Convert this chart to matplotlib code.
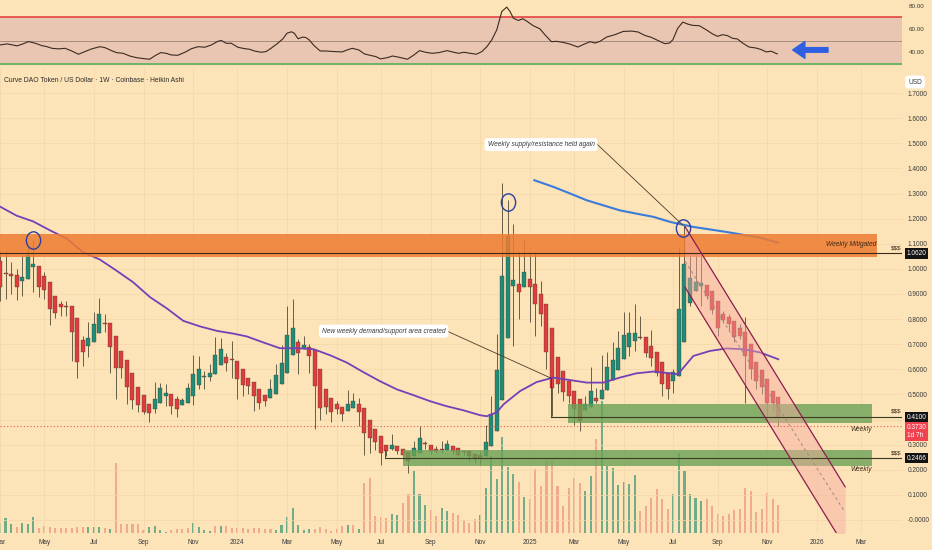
import pandas as pd
import matplotlib
matplotlib.use("Agg")
import matplotlib.pyplot as plt
from matplotlib.path import Path
from matplotlib.transforms import Affine2D

plt.rcParams['font.family'] = ['Liberation Sans Narrow', 'Liberation Sans', 'DejaVu Sans']

START = pd.Timestamp("2023-03-06")  # first weekly Heikin Ashi bar

# Heikin Ashi weekly bars, CRV/USD
ha_open = [1.033, 0.982, 0.98, 0.976, 0.951, 0.96, 1.007, 1.013, 0.973, 0.947,
           0.893, 0.86, 0.853, 0.851, 0.803, 0.717, 0.693, 0.709, 0.743, 0.785,
           0.784, 0.733, 0.671, 0.636, 0.584, 0.531, 0.496, 0.46, 0.44, 0.464,
           0.493, 0.5, 0.48, 0.456, 0.467, 0.493, 0.537, 0.571, 0.571, 0.58,
           0.617, 0.649, 0.639, 0.633, 0.6, 0.567, 0.551, 0.523, 0.496, 0.484,
           0.503, 0.54, 0.587, 0.657, 0.709, 0.685, 0.689, 0.677, 0.603, 0.523,
           0.487, 0.463, 0.451, 0.433, 0.447, 0.46, 0.444, 0.397, 0.363, 0.333,
           0.30, 0.284, 0.293, 0.284, 0.271, 0.253, 0.267, 0.305, 0.297, 0.283,
           0.281, 0.28, 0.293, 0.287, 0.275, 0.273, 0.264, 0.26, 0.253, 0.293,
           0.353, 0.476, 0.724, 0.931, 0.94, 0.927, 0.96, 0.94, 0.90, 0.86,
           0.763, 0.647, 0.593, 0.553, 0.513, 0.48, 0.437, 0.451, 0.484, 0.48,
           0.516, 0.557, 0.597, 0.64, 0.687, 0.713, 0.729, 0.727, 0.693, 0.667,
           0.629, 0.584, 0.553, 0.573, 0.707, 0.863, 0.913, 0.93, 0.936, 0.913,
           0.873, 0.82, 0.81, 0.793, 0.763, 0.749, 0.70, 0.631, 0.596, 0.563,
           0.513, 0.489]
ha_close = [0.927, 0.978, 0.971, 0.927, 0.967, 1.056, 1.02, 0.929, 0.917, 0.84,
            0.823, 0.849, 0.847, 0.749, 0.631, 0.669, 0.723, 0.78, 0.82, 0.781,
            0.687, 0.607, 0.604, 0.531, 0.477, 0.456, 0.431, 0.424, 0.483, 0.527,
            0.504, 0.453, 0.443, 0.476, 0.527, 0.58, 0.6, 0.575, 0.587, 0.657,
            0.68, 0.627, 0.636, 0.563, 0.537, 0.533, 0.493, 0.467, 0.473, 0.52,
            0.576, 0.627, 0.736, 0.764, 0.664, 0.696, 0.653, 0.533, 0.444, 0.451,
            0.431, 0.44, 0.42, 0.46, 0.473, 0.429, 0.347, 0.327, 0.309, 0.267,
            0.273, 0.297, 0.273, 0.26, 0.233, 0.287, 0.327, 0.301, 0.273, 0.273,
            0.279, 0.303, 0.273, 0.26, 0.271, 0.253, 0.243, 0.247, 0.311, 0.423,
            0.597, 0.973, 1.129, 0.956, 0.909, 0.989, 0.927, 0.86, 0.82, 0.669,
            0.527, 0.54, 0.509, 0.493, 0.44, 0.393, 0.46, 0.513, 0.473, 0.517,
            0.61, 0.637, 0.683, 0.737, 0.743, 0.743, 0.725, 0.663, 0.643, 0.587,
            0.54, 0.52, 0.589, 0.84, 1.02, 0.963, 0.947, 0.943, 0.891, 0.837,
            0.763, 0.797, 0.78, 0.727, 0.733, 0.653, 0.60, 0.553, 0.531, 0.464,
            0.464, 0.407]
ha_high = [1.073, 1.073, 1.029, 1.0, 1.051, 1.093, 1.116, 1.013, 0.987, 0.947,
           0.893, 0.873, 0.873, 0.851, 0.803, 0.733, 0.787, 0.829, 0.883, 0.82,
           0.784, 0.733, 0.671, 0.636, 0.584, 0.531, 0.496, 0.46, 0.551, 0.547,
           0.54, 0.5, 0.493, 0.487, 0.547, 0.657, 0.653, 0.593, 0.62, 0.727,
           0.723, 0.663, 0.713, 0.633, 0.6, 0.567, 0.551, 0.523, 0.496, 0.56,
           0.62, 0.696, 0.853, 0.88, 0.72, 0.731, 0.70, 0.677, 0.603, 0.523,
           0.487, 0.473, 0.451, 0.516, 0.507, 0.487, 0.444, 0.397, 0.363, 0.333,
           0.30, 0.344, 0.293, 0.284, 0.271, 0.313, 0.376, 0.313, 0.297, 0.293,
           0.313, 0.317, 0.293, 0.287, 0.28, 0.273, 0.264, 0.273, 0.38, 0.493,
           0.74, 1.343, 1.273, 1.18, 1.073, 1.113, 1.067, 1.067, 0.953, 0.86,
           0.763, 0.647, 0.593, 0.553, 0.513, 0.48, 0.493, 0.61, 0.527, 0.656,
           0.669, 0.709, 0.753, 0.829, 0.829, 0.86, 0.813, 0.727, 0.756, 0.667,
           0.629, 0.584, 0.60, 1.087, 1.173, 1.067, 1.06, 1.067, 0.936, 0.913,
           0.873, 0.833, 0.82, 0.793, 0.78, 0.807, 0.70, 0.631, 0.596, 0.563,
           0.513, 0.489]
ha_low = [0.873, 0.88, 0.90, 0.877, 0.891, 0.96, 0.909, 0.887, 0.88, 0.777,
          0.803, 0.813, 0.811, 0.633, 0.564, 0.613, 0.647, 0.709, 0.743, 0.747,
          0.587, 0.483, 0.564, 0.46, 0.44, 0.431, 0.42, 0.389, 0.427, 0.464,
          0.453, 0.42, 0.411, 0.456, 0.467, 0.456, 0.52, 0.52, 0.553, 0.58,
          0.617, 0.593, 0.567, 0.48, 0.493, 0.50, 0.433, 0.44, 0.453, 0.484,
          0.503, 0.54, 0.585, 0.657, 0.58, 0.68, 0.587, 0.363, 0.40, 0.42,
          0.389, 0.42, 0.393, 0.433, 0.447, 0.373, 0.26, 0.267, 0.28, 0.22,
          0.253, 0.28, 0.264, 0.24, 0.187, 0.253, 0.267, 0.283, 0.264, 0.267,
          0.267, 0.28, 0.264, 0.253, 0.26, 0.233, 0.227, 0.22, 0.253, 0.293,
          0.353, 0.476, 0.724, 0.693, 0.80, 0.927, 0.787, 0.733, 0.773, 0.60,
          0.413, 0.504, 0.473, 0.467, 0.38, 0.353, 0.437, 0.451, 0.467, 0.48,
          0.516, 0.557, 0.597, 0.64, 0.653, 0.673, 0.72, 0.647, 0.613, 0.573,
          0.493, 0.48, 0.507, 0.573, 0.707, 0.853, 0.913, 0.853, 0.88, 0.82,
          0.733, 0.784, 0.753, 0.707, 0.72, 0.464, 0.56, 0.52, 0.50, 0.393,
          0.433, 0.373]

volume = [10, 15, 9, 6, 10, 9, 16, 5, 7, 6,
          5, 5, 5, 5, 6, 6, 6, 6, 6, 5,
          4, 70, 9, 9, 9, 9, 3, 6, 7, 3,
          1.5, 3, 4, 4, 5, 10, 6, 3, 2, 7,
          7, 7, 5, 5, 5, 4, 5, 5, 4, 4,
          3, 8, 16, 25, 8, 3, 4, 4, 6, 4,
          2, 4, 7, 8, 8, 4, 50, 55, 17, 16,
          15, 19, 18, 30, 39, 62, 39, 28, 23, 17,
          25, 22, 20, 18, 13, 10, 14, 18, 45, 77,
          54, 96, 66, 59, 51, 36, 34, 64, 47, 72,
          72, 47, 27, 45, 55, 50, 42, 57, 94, 132,
          67, 65, 48, 51, 49, 58, 22, 27, 35, 44,
          34, 24, 39, 80, 62, 39, 35, 32, 34, 27,
          19, 17, 19, 23, 24, 45, 42, 21, 24, 40,
          34, 28]
volume_dir = ("gggsgggsss" "ssssssgggs" "gssssssggg" "gssssggggs" "gsssssssss"
              "gggggggsss" "sssgsgssss" "sggssgggss" "ggsssssggg" "ggggsgssss"
              "ssssssggsg" "ggggggssss" "ssggggggss" "ssssssssss" "ss")

# moving averages (bar position, value)
ma_purple_pos = [0, 3.0, 6.0, 9.1, 12.1, 15.0, 18.1, 21.1, 24.1, 27.2,
                 30.2, 33.2, 36.2, 39.3, 42.3, 44.7, 47.7, 50.7, 53.8, 56.8,
                 59.8, 62.8, 65.8, 68.8, 71.9, 74.9, 77.9, 80.9, 83.9, 87.0,
                 88.2, 90.0, 91.2, 94.2, 97.2, 100.2, 103.3, 106.3, 109.3, 112.3,
                 115.3, 118.4, 121.4, 122.8, 125.6, 128.6, 131.6, 134.7, 137.7, 141]
ma_purple_val = [1.248, 1.212, 1.189, 1.153, 1.12, 1.067, 1.037, 0.993, 0.947, 0.887,
                 0.843, 0.793, 0.771, 0.753, 0.742, 0.731, 0.707, 0.684, 0.684, 0.68,
                 0.656, 0.627, 0.589, 0.553, 0.52, 0.497, 0.473, 0.453, 0.437, 0.417,
                 0.413, 0.429, 0.46, 0.513, 0.549, 0.567, 0.557, 0.547, 0.547, 0.567,
                 0.584, 0.591, 0.584, 0.58, 0.653, 0.673, 0.683, 0.68, 0.667, 0.64]
ma_blue_pos = [96.8, 100.2, 103.3, 106.3, 109.3, 112.3, 115.3, 118.4, 121.4, 125.6,
               131.6, 137.7, 141]
ma_blue_val = [1.353, 1.327, 1.30, 1.273, 1.253, 1.233, 1.22, 1.207, 1.187, 1.167,
               1.147, 1.124, 1.104]

# RSI (bar position, value)
rsi_pos = [0, 1.3, 3.1, 4, 5.2, 6.4, 7.6, 8.5, 9.4, 10.6,
           11.8, 13, 14.2, 15.4, 16.6, 18.1, 19, 20.2, 21.1, 22.3,
           23.5, 24.7, 25.9, 27.1, 28, 29.1, 30.1, 31, 32.2, 33.5,
           34.7, 35.9, 37.1, 38.3, 39.5, 40.1, 41, 41.9, 43.1, 44.3,
           45.2, 46.1, 47.3, 48.2, 49.1, 50.3, 51.2, 52, 52.8, 53.3,
           54, 54.8, 55.4, 56, 56.9, 58, 59, 60.5, 62, 62.9,
           63.8, 65, 66, 67.2, 68.1, 68.9, 70.2, 71.1, 72.3, 73.8,
           75, 76, 77.1, 78.3, 79.5, 81, 82.2, 83.1, 84, 85.2,
           86.3, 87.3, 88.2, 89.1, 90, 90.9, 91.8, 92.4, 93, 93.9,
           94.7, 95.5, 96.6, 97.8, 98.7, 99.9, 100.8, 102, 103.2, 104.7,
           105.6, 106.9, 107.8, 108.7, 109.9, 111.4, 112.9, 114.4, 115.6, 116.8,
           118, 119.5, 120.4, 121.3, 121.9, 122.8, 123.7, 124.6, 125.5, 126.7,
           127.9, 129.1, 130, 130.9, 131.8, 132.7, 133.6, 134.5, 135.7, 136.9,
           137.9, 138.8, 139.7, 140.8]
rsi_val = [46.3, 47.2, 45.5, 46.9, 49.2, 47.7, 45.7, 44.8, 43.4, 42.9,
           43.4, 41.1, 38.3, 40.6, 42.9, 44.8, 44.0, 41.4, 39.7, 39.1,
           36.8, 35.4, 34.6, 34.0, 36.8, 39.7, 39.1, 37.7, 37.4, 40.0,
           43.1, 44.8, 44.3, 46.3, 49.5, 50.1, 47.7, 47.7, 44.3, 43.1,
           42.6, 41.1, 40.0, 40.6, 43.4, 47.7, 51.3, 56.4, 57.6, 56.4,
           51.6, 53.0, 52.7, 50.7, 45.7, 41.1, 41.1, 40.6, 40.3, 42.0,
           43.4, 42.0, 38.6, 37.2, 36.3, 34.3, 35.4, 36.8, 35.7, 34.0,
           37.7, 41.4, 40.0, 39.1, 39.7, 41.4, 40.0, 39.1, 40.0, 39.1,
           38.3, 40.6, 44.8, 50.7, 59.3, 75.0, 78.8, 75.0, 69.3, 67.3,
           68.8, 66.5, 62.8, 60.2, 55.1, 49.1, 49.4, 48.5, 47.1, 44.5,
           46.5, 49.1, 47.9, 49.4, 53.1, 55.1, 57.9, 58.2, 57.4, 54.5,
           52.8, 49.4, 47.4, 47.9, 50.8, 60.8, 65.9, 64.2, 63.1, 62.8,
           59.4, 55.7, 53.7, 55.1, 54.3, 52.0, 51.4, 48.0, 44.5, 43.7,
           42.3, 40.3, 40.9, 38.6]

# drawings
supply_zone = (0, 158.9, 1.047, 1.139)      # x0, x1, low, high
demand_zone_1 = (102.9, 158.0, 0.387, 0.462)
demand_zone_2 = (73.0, 158.0, 0.215, 0.279)
level_supply = 1.062
level_demand_1 = 0.41
level_demand_2 = 0.2466
last_price = 0.373
chan_x = [124.1, 153.1]
chan_upper = [1.168, 0.132]
chan_lower = [0.927, -0.109]
chan_mid = [1.03, 0.03]
circle_x = [6.0, 92.0, 123.8]
circle_y = [1.115, 1.267, 1.162]

BG = '#fde4b8'
GREEN = '#1f8c76'
RED = '#dd3d3d'
WICK = '#655e48'
TXT = '#3a3a3a'

W, H = 932, 550
fig = plt.figure(figsize=(W / 100, H / 100), dpi=100, facecolor=BG)
right = 902 / W
ax_rsi = fig.add_axes([0, 1 - 66 / H, right, 66 / H])
ax_vol = fig.add_axes([0, 1 - 533 / H, right, (533 - 68) / H], zorder=0)
ax = fig.add_axes([0, 1 - 533 / H, right, (533 - 68) / H], zorder=1)
ax.patch.set_alpha(0)
xmax = 902 / 5.52

# x ticks: first weekly bar of every other month
tick_pos, tick_lab = [], []
for m in pd.date_range("2023-03-01", "2026-03-01", freq="2MS"):
    first = m if m.weekday() == 0 else m + pd.offsets.Week(weekday=0)
    tick_pos.append((first - START).days / 7)
    tick_lab.append(str(m.year) if m.month == 1 else m.strftime("%b"))

# ---- RSI pane
ax_rsi.set_facecolor(BG)
ax_rsi.set_xlim(0, xmax)
ax_rsi.set_ylim(28.2, 84.9)
ax_rsi.axhspan(30, 70, color='#e9c6b1', zorder=0)
ax_rsi.axhline(70, color='#e5393a', lw=1.1)
ax_rsi.axhline(30, color='#4caf50', lw=1.1)
ax_rsi.axhline(50, color='#9c8576', lw=0.6)
ax_rsi.plot(rsi_pos, rsi_val, color='#3b2a22', lw=0.8)
ax_rsi.annotate('', xy=(143.6, 42), xytext=(150.0, 42),
                arrowprops=dict(arrowstyle='simple,head_length=0.8,head_width=1.1,tail_width=0.3',
                                color='#2f5fe0', mutation_scale=11, shrinkA=0, shrinkB=0))
ax_rsi.set_xticks([])
ax_rsi.yaxis.tick_right()
ax_rsi.set_yticks([40, 60, 80], ['40.00', '60.00', '80.00'])
ax_rsi.tick_params(axis='y', length=0, pad=5, labelsize=4.5, labelcolor=TXT)
for s in ax_rsi.spines.values():
    s.set_visible(False)

# ---- volume
ax_vol.set_facecolor(BG)
ax_vol.set_xlim(0, xmax)
ax_vol.set_ylim(0, 465)
idx = list(range(len(ha_open)))
vcol = ['#4f9d7c' if d == 'g' else '#f09c82' for d in volume_dir]
ax_vol.bar(idx, volume, width=0.38, color=vcol, alpha=0.8)
ax_vol.axis('off')

# ---- price pane
ax.set_xlim(0, xmax)
ax.set_ylim(-0.052, 1.80)
for t in tick_pos:
    ax.axvline(t, color='#f4d7a9', lw=0.5, zorder=0)
for p in range(18):
    ax.axhline(p / 10, color='#f4d7a9', lw=0.5, zorder=0)

body_low = [min(o, c) for o, c in zip(ha_open, ha_close)]
body_h = [max(abs(c - o), 0.004) for o, c in zip(ha_open, ha_close)]
ccol = [GREEN if c >= o else RED for o, c in zip(ha_open, ha_close)]
ax.vlines(idx, ha_low, ha_high, color=WICK, lw=0.7, zorder=2)
ax.bar(idx, body_h, bottom=body_low, width=0.72, color=ccol,
       edgecolor='#4a3a30', linewidth=0.25, zorder=3)

ax.plot(ma_purple_pos, ma_purple_val, color='#7340b8', lw=1.3, zorder=4)
ax.plot(ma_blue_pos, ma_blue_val, color='#3b7bd9', lw=1.5, zorder=4)

# zones
x0, x1, lo, hi = supply_zone
ax.fill_between([x0, x1], lo, hi, color='#ee7c32', alpha=0.85, lw=0, zorder=5)
for x0, x1, lo, hi in (demand_zone_1, demand_zone_2):
    ax.fill_between([x0, x1], lo, hi, color='#6ba257', alpha=0.8, lw=0, zorder=5)
ax.axhline(level_supply, color='#3b2a1c', lw=0.8, zorder=6)
ax.plot([99.8, xmax], [level_demand_1, level_demand_1], color='#3b3a22', lw=0.8, zorder=6)
ax.plot([99.8, 99.8], [0.565, level_demand_1], color='#3b3a22', lw=0.6, zorder=6)
ax.plot([69.7, xmax], [level_demand_2, level_demand_2], color='#3b3a22', lw=0.8, zorder=6)
ax.plot([69.7, 69.7], [0.279, level_demand_2], color='#3b3a22', lw=0.6, zorder=6)
ax.axhline(last_price, color='#e0604a', lw=0.8, ls=(0, (1, 2)), zorder=6)

# descending channel
ax.fill_between(chan_x, chan_lower, chan_upper, color='#f7a9a0', alpha=0.45, lw=0, zorder=5)
ax.plot(chan_x, chan_upper, color='#8c1d4e', lw=0.9, zorder=6)
ax.plot(chan_x, chan_lower, color='#8c1d4e', lw=0.9, zorder=6)
ax.plot(chan_x, chan_mid, color='#a08a80', lw=0.7, ls=(0, (3, 3)), zorder=6)

ell = Path.unit_circle().transformed(Affine2D().scale(0.82, 1.0))
ax.plot(circle_x, circle_y, ls='none', marker=ell, ms=12.5, mfc='none',
        mec='#2c3f9e', mew=1.0, zorder=7)

# notes
note_box = dict(boxstyle='round,pad=0.45', fc='white', ec='none')
ax.text(98.0, 1.495, 'Weekly supply/resistance held again', fontsize=4.8, style='italic',
        color=TXT, ha='center', va='center', bbox=note_box, zorder=8)
ax.plot([108.0, 123.7], [1.50, 1.174], color='#4a3a2a', lw=0.6, zorder=7)
ax.text(69.5, 0.752, 'New weekly demand/support area created', fontsize=4.8, style='italic',
        color=TXT, ha='center', va='center', bbox=note_box, zorder=8)
ax.plot([81.0, 99.8], [0.752, 0.565], color='#4a3a2a', lw=0.6, zorder=7)

ax.text(158.7, 1.098, 'Weekly Mitigated', fontsize=4.8, style='italic', color='#3a2a1a',
        ha='right', va='center', zorder=8)
ax.text(158.0, 0.362, 'Weekly', fontsize=4.8, style='italic', color='#3a2a1a', ha='right', va='center', zorder=8)
ax.text(158.0, 0.199, 'Weekly', fontsize=4.8, style='italic', color='#3a2a1a', ha='right', va='center', zorder=8)
for lvl in (level_supply, level_demand_1, level_demand_2):
    ax.text(162.3, lvl + 0.012, '$$$', fontsize=4.5, color='#3a2a1a', ha='center', va='bottom', zorder=8)

# axes: the 0.4000 label is hidden behind the 0.4100 price tag, as on the chart
ax.set_xticks(tick_pos, tick_lab)
ax.yaxis.tick_right()
yt = [p / 10 for p in range(18)]
ylab = ['-0.0000'] + [f'{v:.4f}' for v in yt[1:]]
ylab[4] = ''
ax.set_yticks(yt, ylab)
ax.tick_params(axis='both', length=0, labelsize=4.7, labelcolor=TXT)
ax.tick_params(axis='y', pad=4)
ax.tick_params(axis='x', pad=4)
for s in ax.spines.values():
    s.set_visible(False)

ytr = ax.get_yaxis_transform()
for lvl, txt in ((level_supply, '1.0620'), (level_demand_1, '0.4100'), (level_demand_2, '0.2466')):
    ax.text(1.005, lvl, txt, transform=ytr, fontsize=4.7, color='white', ha='left', va='center',
            bbox=dict(boxstyle='square,pad=0.3', fc='#131313', ec='none'), clip_on=False, zorder=9)
ax.text(1.005, 0.381, '0.3730\n1d 7h', transform=ytr, fontsize=4.7, color='white', ha='left',
        va='top', linespacing=1.2,
        bbox=dict(boxstyle='square,pad=0.3', fc='#f0424f', ec='none'), clip_on=False, zorder=9)

fig.text(4 / W, 1 - 81 / H, 'Curve DAO Token / US Dollar · 1W · Coinbase · Heikin Ashi',
         fontsize=4.9, color='#2a2a2a', ha='left', va='center')
fig.text(915 / W, 1 - 82 / H, 'USD', fontsize=4.7, color=TXT, ha='center', va='center',
         bbox=dict(boxstyle='round,pad=0.45', fc='white', ec='none'))

fig.savefig('out.png', dpi=100, facecolor=BG)
